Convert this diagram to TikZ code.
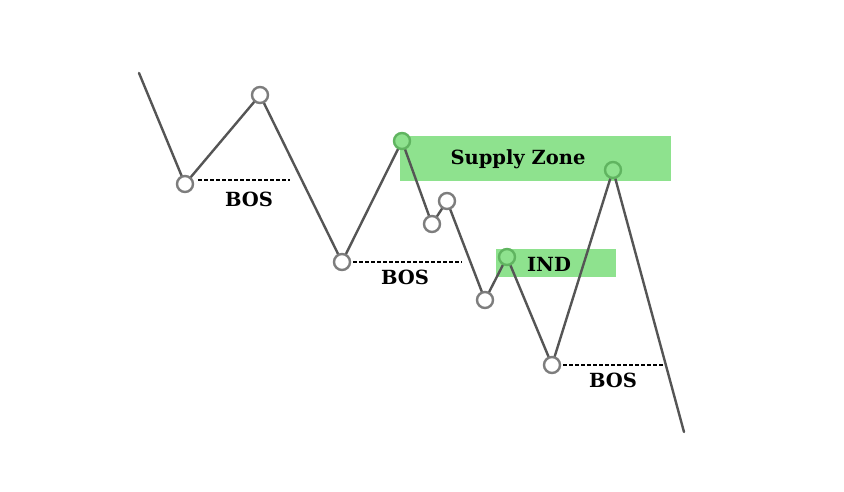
\documentclass[tikz,border=0pt]{standalone}
\usepackage{fontspec}
\setmainfont{DejaVu Serif}
\definecolor{zone}{RGB}{142,226,142}
\definecolor{zoneedge}{RGB}{96,180,96}
\definecolor{price}{RGB}{85,85,85}
\definecolor{ring}{RGB}{125,125,125}
\tikzset{
  x=1pt,y=-1pt,
  pricepath/.style={draw=price,line width=2.4pt,line cap=round},
  pivot/.style={circle,draw=ring,fill=white,line width=2.4pt,minimum size=16pt,inner sep=0pt},
  gpivot/.style={circle,draw=zoneedge,fill=zone,line width=2.4pt,minimum size=16pt,inner sep=0pt},
  bosline/.style={draw=black,line width=1.8pt,dash pattern=on 3.5pt off 2.5pt},
  lbl/.style={font=\fontsize{19.5}{22}\selectfont\bfseries,inner sep=0pt},
  zonebox/.style={fill=zone,draw=none}
}
\begin{document}
\begin{tikzpicture}
\useasboundingbox[fill=white] (0,0) rectangle (844,492);
% zones
\fill[zonebox] (400,136) rectangle (671,181);
\fill[zonebox] (496,249) rectangle (616,277);
\node[lbl] (sz) at (518,159) {Supply Zone};
\node[lbl] (ind) at (549,264) {IND};
% pivots coordinates
\coordinate (s) at (139,73);
\coordinate (e) at (684,432);
\coordinate (p1) at (185,184);
\coordinate (p2) at (260,95);
\coordinate (p3) at (342,262);
\coordinate (p4) at (402,141);
\coordinate (p5) at (432,224);
\coordinate (p6) at (447,201);
\coordinate (p7) at (485,300);
\coordinate (p8) at (507,257);
\coordinate (p9) at (552,365);
\coordinate (p10) at (613,170);
% BOS lines
\coordinate (b1) at (290,180);
\coordinate (b2) at (462,262);
\coordinate (b3) at (663,365);
\draw[bosline] ([xshift=13pt]p1 |- b1) -- (b1);
\draw[bosline] ([xshift=11pt]p3) -- (b2);
\draw[bosline] ([xshift=11pt]p9) -- (b3);
\node[lbl] (bos1) at (249,199) {BOS};
\node[lbl] (bos2) at (405,277) {BOS};
\node[lbl] (bos3) at (613,380) {BOS};
% price path
\draw[pricepath] (s) -- (p1) -- (p2) -- (p3) -- (p4) -- (p5) -- (p6) -- (p7) -- (p8) -- (p9) -- (p10) -- (e);
% circles
\node[pivot] (c1) at (p1) {};
\node[pivot] (c2) at (p2) {};
\node[pivot] (c3) at (p3) {};
\node[gpivot] (c4) at (p4) {};
\node[pivot] (c5) at (p5) {};
\node[pivot] (c6) at (p6) {};
\node[pivot] (c7) at (p7) {};
\node[gpivot] (c8) at (p8) {};
\node[pivot] (c9) at (p9) {};
\node[gpivot] (c10) at (p10) {};
\end{tikzpicture}
\end{document}
